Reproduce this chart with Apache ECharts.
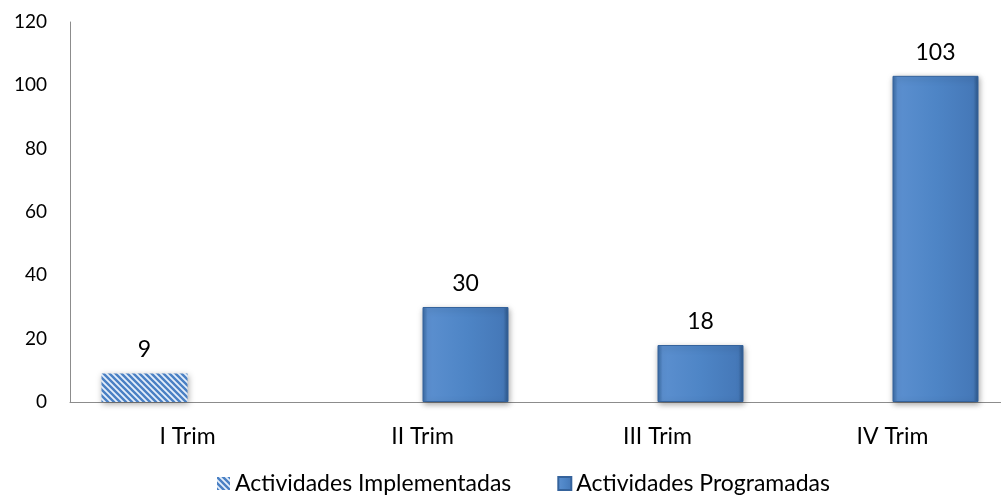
<!DOCTYPE html>
<html>
<head>
<meta charset="utf-8">
<script src="https://cdn.jsdelivr.net/npm/echarts@6/dist/echarts.min.js"></script>
<style>html,body{margin:0;padding:0;background:#fff;overflow:hidden}#c{width:1010px;height:504px}</style>
</head>
<body>
<div id="c"></div>
<script>
const categories = ['I Trim', 'II Trim', 'III Trim', 'IV Trim'];
const implementadas = [9, null, null, null];
const programadas = [null, 30, 18, 103];
const yTicks = { min: 0, max: 120, interval: 20 };

function hatch() {
  const s = 6, c = document.createElement('canvas');
  c.width = s; c.height = s;
  const g = c.getContext('2d');
  g.fillStyle = '#e4eefa'; g.fillRect(0, 0, s, s);
  g.strokeStyle = '#4a80c4'; g.lineWidth = 2.4;
  g.beginPath();
  for (let k = -1; k <= 1; k++) {
    g.moveTo(k * s - 1, -1); g.lineTo(k * s + s + 1, s + 1);
  }
  g.stroke();
  return c;
}

const font = 'Lato';
const blue = new echarts.graphic.LinearGradient(0, 0, 1, 0, [
  { offset: 0, color: '#3a6aa3' },
  { offset: 0.06, color: '#5b8fcf' },
  { offset: 0.5, color: '#4e85c6' },
  { offset: 0.94, color: '#4578b8' },
  { offset: 1, color: '#2d5788' }
]);

const chart = echarts.init(document.getElementById('c'));
chart.setOption({
  animation: false,
  textStyle: { fontFamily: font },
  grid: { left: 70, right: 0, top: 22, bottom: 102, containLabel: false },
  legend: {
    bottom: 4, left: 212,
    itemWidth: 13, itemHeight: 13, itemGap: 46,
    textStyle: { fontFamily: font, fontSize: 23, color: '#000' },
    data: [
      { name: 'Actividades Implementadas', icon: 'rect' },
      { name: 'Actividades Programadas', icon: 'rect' }
    ]
  },
  xAxis: {
    type: 'category',
    data: categories,
    axisLine: { show: true, lineStyle: { color: '#8c8c8c', width: 1 } },
    axisTick: { show: false },
    axisLabel: { color: '#000', fontSize: 23, margin: 23, fontFamily: font }
  },
  yAxis: {
    type: 'value',
    min: yTicks.min, max: yTicks.max, interval: yTicks.interval,
    axisLine: { show: true, lineStyle: { color: '#8c8c8c', width: 1 } },
    axisTick: { show: false },
    splitLine: { show: false },
    axisLabel: { color: '#000', fontSize: 19, margin: 23, fontFamily: font }
  },
  series: [
    {
      name: 'Actividades Implementadas',
      type: 'bar',
      data: implementadas,
      barWidth: 86,
      barGap: '0%',
      itemStyle: {
        color: { image: hatch(), repeat: 'repeat' },
        shadowBlur: 6, shadowColor: 'rgba(0,0,0,0.35)', shadowOffsetX: 1, shadowOffsetY: 2
      },
      label: { show: true, position: 'top', distance: 12, fontSize: 23, color: '#000', fontFamily: font }
    },
    {
      name: 'Actividades Programadas',
      type: 'bar',
      data: programadas,
      barWidth: 86,
      barGap: '0%',
      itemStyle: {
        color: blue,
        borderColor: '#35639c', borderWidth: 1,
        shadowBlur: 6, shadowColor: 'rgba(0,0,0,0.35)', shadowOffsetX: 1, shadowOffsetY: 2
      },
      label: { show: true, position: 'top', distance: 12, fontSize: 23, color: '#000', fontFamily: font }
    }
  ]
});
</script>
</body>
</html>
